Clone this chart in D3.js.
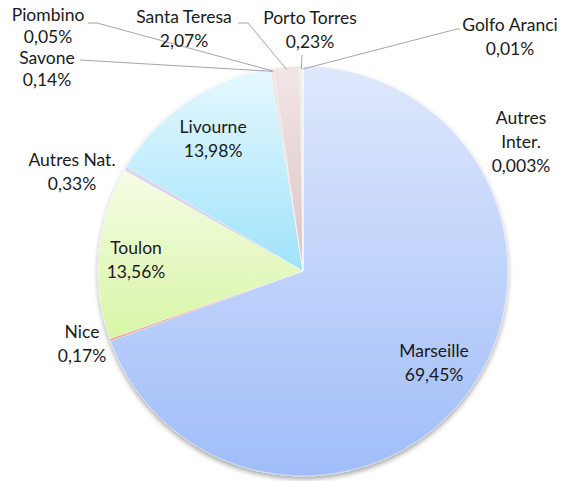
<!DOCTYPE html>
<html lang="fr">
<head>
<meta charset="utf-8">
<title>Ports</title>
<script src="https://cdn.jsdelivr.net/npm/d3@7"></script>
<style>
  body { margin: 0; background: #fff; }
  text { font-family: Lato, "Open Sans", sans-serif; font-size: 17.5px; fill: #1a1a1a; }
</style>
</head>
<body>
<script>
// data (clockwise from 12 o'clock)
var ports = ["Marseille", "Nice", "Toulon", "Autres Nat.", "Livourne", "Savone", "Piombino", "Santa Teresa", "Porto Torres", "Golfo Aranci", "Autres Inter."];
var shares = [69.45, 0.17, 13.56, 0.33, 13.98, 0.14, 0.05, 2.07, 0.23, 0.01, 0.003];
var shareLabels = ["69,45%", "0,17%", "13,56%", "0,33%", "13,98%", "0,14%", "0,05%", "2,07%", "0,23%", "0,01%", "0,003%"];

// gradient colours top -> bottom
var colTop = ["#dfe8fc", "#f6b0ac", "#f5fce4", "#ddd6f2", "#e6f8fe", "#f8d6c6", "#f4d8cc", "#f1e6e6", "#eef0e2", "#dde4f6", "#e0e8f8"];
var colBot = ["#a0bdf9", "#f19c98", "#d8f6a6", "#cfc6ec", "#9fe3fb", "#f2c4b0", "#ecc6b8", "#dcc4c4", "#e0e4cc", "#c8d4f0", "#c8d8f4"];

var w = 561, h = 481;
var cx = 303, cy = 271, r = 205;

// label placement (text centre x, first line baseline y, line gap), null = inside at centroid
var labelPos = [
  null, [82, 338, 24], [136, 254, 24], [72, 166, 24], null,
  [47, 64, 22], [48, 21, 22], [184, 23, 24], [310, 24, 24], [510, 31, 24], [521, 124, 24]
];
// leader line start near the text (null = no leader)
var leaderFrom = [
  null, null, null, null, null,
  [[80, 60], [80, 60]], [[88, 23], [97, 23]], [[238, 23], [248, 23]],
  [[302, 55], [302, 55]], [[460, 29], [457, 29]], null
];

var svg = d3.select("body").append("svg")
  .attr("width", w)
  .attr("height", h);

var defs = svg.append("defs");
var shadow = defs.append("filter").attr("id", "shadow")
  .attr("x", "-10%").attr("y", "-10%").attr("width", "120%").attr("height", "125%");
shadow.append("feDropShadow")
  .attr("dx", 0).attr("dy", 3).attr("stdDeviation", 2.5)
  .attr("flood-color", "#000").attr("flood-opacity", 0.35);

ports.forEach(function(p, i) {
  var g = defs.append("linearGradient").attr("id", "grad" + i)
    .attr("x1", 0).attr("y1", 0).attr("x2", 0).attr("y2", 1);
  g.append("stop").attr("offset", "0%").attr("stop-color", colTop[i]);
  g.append("stop").attr("offset", "100%").attr("stop-color", colBot[i]);
});

var data = ports.map(function(p, i) {
  return { name: p, value: shares[i], label: shareLabels[i], idx: i };
});

var pie = d3.pie().sort(null).value(function(d) { return d.value; });
var arcs = pie(data);
var arc = d3.arc().innerRadius(0).outerRadius(r);
var labelArc = d3.arc().innerRadius(160).outerRadius(160);

var pieG = svg.append("g")
  .attr("transform", "translate(" + cx + "," + cy + ")")
  .attr("filter", "url(#shadow)");

pieG.selectAll("path")
  .data(arcs)
  .enter()
  .append("path")
  .attr("d", arc)
  .attr("fill", function(d) { return "url(#grad" + d.data.idx + ")"; })
  .attr("stroke", "rgba(255,255,255,0.6)")
  .attr("stroke-width", 0.6);

// leader lines
svg.selectAll("polyline.leader")
  .data(arcs.filter(function(d) { return leaderFrom[d.data.idx]; }))
  .enter()
  .append("polyline")
  .attr("class", "leader")
  .attr("fill", "none")
  .attr("stroke", "#a6a6a6")
  .attr("stroke-width", 1)
  .attr("points", function(d) {
    var a = (d.startAngle + d.endAngle) / 2;
    var e = [cx + (r - 3) * Math.sin(a), cy - (r - 3) * Math.cos(a)];
    var f = leaderFrom[d.data.idx];
    return [f[0], f[1], e].map(function(p) { return p.join(","); }).join(" ");
  });

// labels
var lab = svg.selectAll("text.lab")
  .data(arcs)
  .enter()
  .append("text")
  .attr("class", "lab")
  .attr("text-anchor", "middle")
  .attr("transform", function(d) {
    var p = labelPos[d.data.idx];
    if (p) return "translate(" + p[0] + "," + p[1] + ")";
    var c = labelArc.centroid(d);
    return "translate(" + (cx + c[0]) + "," + (cy + c[1] - 6) + ")";
  });

lab.each(function(d) {
  var lines = d.data.name === "Autres Inter." ? ["Autres", "Inter.", d.data.label] : [d.data.name, d.data.label];
  var p = labelPos[d.data.idx];
  var gap = p ? p[2] : 24;
  var t = d3.select(this);
  lines.forEach(function(s, k) {
    t.append("tspan").attr("x", 0).attr("dy", k === 0 ? 0 : gap).text(s);
  });
});
</script>
</body>
</html>
